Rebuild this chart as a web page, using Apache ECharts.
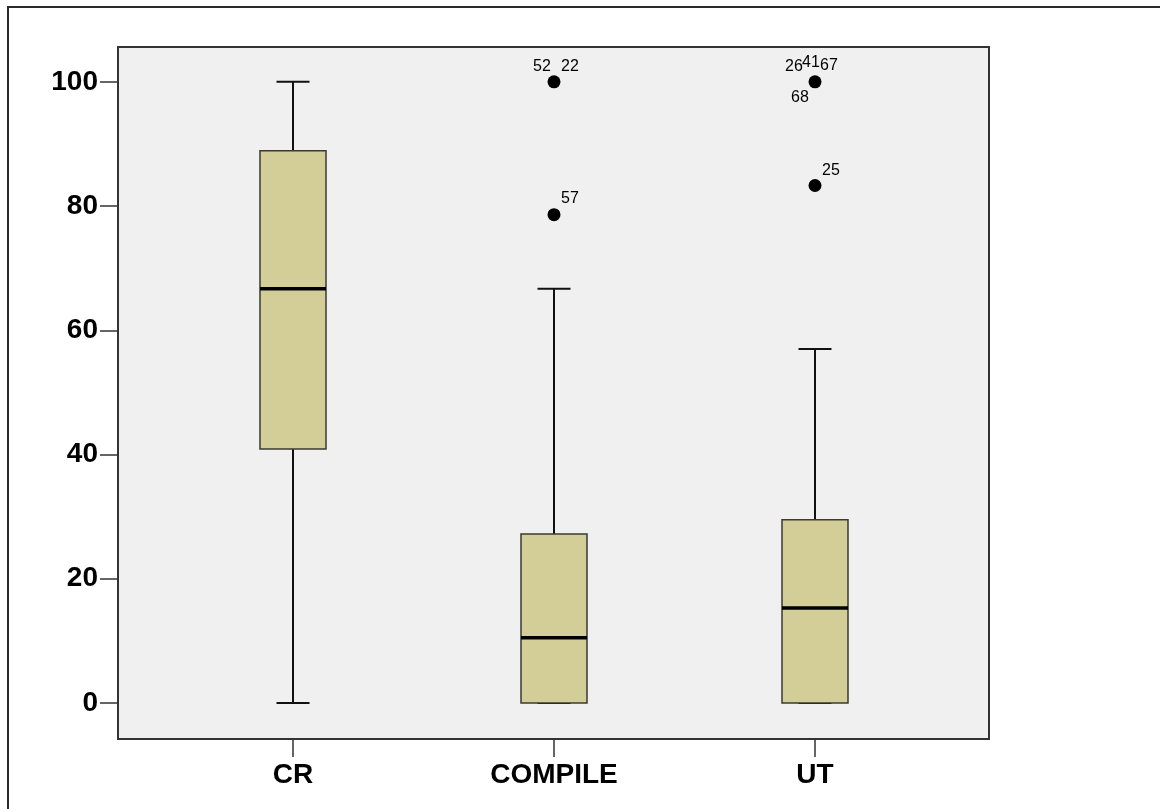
<!DOCTYPE html>
<html>
<head>
<meta charset="utf-8">
<style>
  html, body { margin: 0; padding: 0; background: #ffffff; }
  #chart { width: 1160px; height: 809px; }
</style>
<script src="https://cdn.jsdelivr.net/npm/echarts@6/dist/echarts.min.js"></script>
</head>
<body>
<div id="chart"></div>
<script>
// ---- data ----
const categories = ['CR', 'COMPILE', 'UT'];
const boxMin    = [0, 0, 0];
const boxQ1     = [40.9, 0, 0];
const boxMedian = [66.7, 10.5, 15.3];
const boxQ3     = [88.9, 27.2, 29.5];
const boxMax    = [100, 66.7, 57.0];
const yTicks    = [0, 20, 40, 60, 80, 100];
// outliers: category index, value
const outlierCat   = [1, 1, 2, 2];
const outlierValue = [100, 78.6, 100, 83.3];
// case labels for outliers: category index, value, label
const labelCat   = [1, 1, 1, 2, 2, 2, 2, 2];
const labelValue = [100, 100, 78.6, 100, 100, 100, 100, 83.3];
const labelText  = ['52', '22', '57', '26', '41', '67', '68', '25'];

// ---- layout / style ----
const FONT = '"Liberation Sans", Arial, Helvetica, sans-serif';
const yMin = -5.8, yMax = 105.6;
const labelOffsets = [[-12, -15], [16, -15], [16, -16], [-21, -15], [-4, -19], [14, -16], [-15, 16], [16, -15]];
const BOX_W = 66;

const boxData = categories.map((c, i) => [i, boxMin[i], boxQ1[i], boxMedian[i], boxQ3[i], boxMax[i]]);
const outlierData = outlierCat.map((c, i) => [c, outlierValue[i]]);
const labelData = labelCat.map((c, i) => ({
  value: [c, labelValue[i]],
  label: { formatter: labelText[i], offset: labelOffsets[i] }
}));

const chart = echarts.init(document.getElementById('chart'), null, { renderer: 'canvas' });

const option = {
  animation: false,
  backgroundColor: '#ffffff',
  graphic: [{
    type: 'rect',
    shape: { x: 8, y: 7, width: 1300, height: 900 },
    style: { fill: 'none', stroke: '#2a2a2a', lineWidth: 2 },
    silent: true,
    z: -10
  }],
  grid: [
    { left: 118, right: 171, top: 47, bottom: 70, show: true, backgroundColor: '#f0f0f0', borderColor: '#333333', borderWidth: 2, containLabel: false },
    { left: 162.5, right: 214.5, top: 47, bottom: 70, show: false, containLabel: false }
  ],
  xAxis: [
    { gridIndex: 0, type: 'value', min: 0, max: 1, show: false },
    {
      gridIndex: 1, type: 'category', data: categories, boundaryGap: true,
      position: 'bottom',
      axisLine: { show: false, onZero: false },
      axisTick: { show: true, alignWithLabel: true, length: 18, lineStyle: { color: '#333333', width: 1.5 } },
      axisLabel: { margin: 22, color: '#000000', fontFamily: FONT, fontWeight: 'bold', fontSize: 28 },
      splitLine: { show: false }
    }
  ],
  yAxis: [
    {
      gridIndex: 0, type: 'value', min: yMin, max: yMax,
      axisLine: { show: false, onZero: false },
      axisTick: { show: true, customValues: yTicks, length: 18, lineStyle: { color: '#333333', width: 1.5 } },
      axisLabel: { customValues: yTicks, margin: 20, color: '#000000', fontFamily: FONT, fontWeight: 'bold', fontSize: 28 },
      splitLine: { show: false }
    },
    { gridIndex: 1, type: 'value', min: yMin, max: yMax, show: false, axisLine: { onZero: false }, splitLine: { show: false } }
  ],
  series: [
    {
      type: 'custom',
      name: 'box',
      xAxisIndex: 1, yAxisIndex: 1,
      data: boxData,
      encode: { x: 0, y: [1, 2, 3, 4, 5] },
      renderItem: function (params, api) {
        const x = api.value(0);
        const pMin = api.coord([x, api.value(1)]);
        const pQ1 = api.coord([x, api.value(2)]);
        const pMed = api.coord([x, api.value(3)]);
        const pQ3 = api.coord([x, api.value(4)]);
        const pMax = api.coord([x, api.value(5)]);
        const cx = pMed[0];
        const hw = BOX_W / 2, cw = BOX_W / 4;
        const whisk = { stroke: '#111111', lineWidth: 2 };
        return {
          type: 'group',
          children: [
            { type: 'line', shape: { x1: cx, y1: pQ3[1], x2: cx, y2: pMax[1] }, style: whisk },
            { type: 'line', shape: { x1: cx, y1: pQ1[1], x2: cx, y2: pMin[1] }, style: whisk },
            { type: 'line', shape: { x1: cx - cw, y1: pMax[1], x2: cx + cw, y2: pMax[1] }, style: whisk },
            { type: 'line', shape: { x1: cx - cw, y1: pMin[1], x2: cx + cw, y2: pMin[1] }, style: whisk },
            { type: 'rect', shape: { x: cx - hw, y: pQ3[1], width: BOX_W, height: pQ1[1] - pQ3[1] },
              style: { fill: '#d3ce98', stroke: '#3a3a30', lineWidth: 1.5 } },
            { type: 'line', shape: { x1: cx - hw, y1: pMed[1], x2: cx + hw, y2: pMed[1] }, style: { stroke: '#000000', lineWidth: 3.5 } }
          ]
        };
      },
      z: 2
    },
    {
      type: 'scatter',
      name: 'outliers',
      xAxisIndex: 1, yAxisIndex: 1,
      data: outlierData,
      symbol: 'circle',
      symbolSize: 13,
      itemStyle: { color: '#000000', opacity: 1 },
      z: 3
    },
    {
      type: 'scatter',
      name: 'case labels',
      xAxisIndex: 1, yAxisIndex: 1,
      data: labelData,
      symbolSize: 0,
      itemStyle: { color: 'transparent', opacity: 1 },
      label: { show: true, position: 'inside', color: '#000000', opacity: 1, fontFamily: FONT, fontSize: 16 },
      silent: true,
      z: 4
    }
  ]
};

chart.setOption(option);
</script>
</body>
</html>
